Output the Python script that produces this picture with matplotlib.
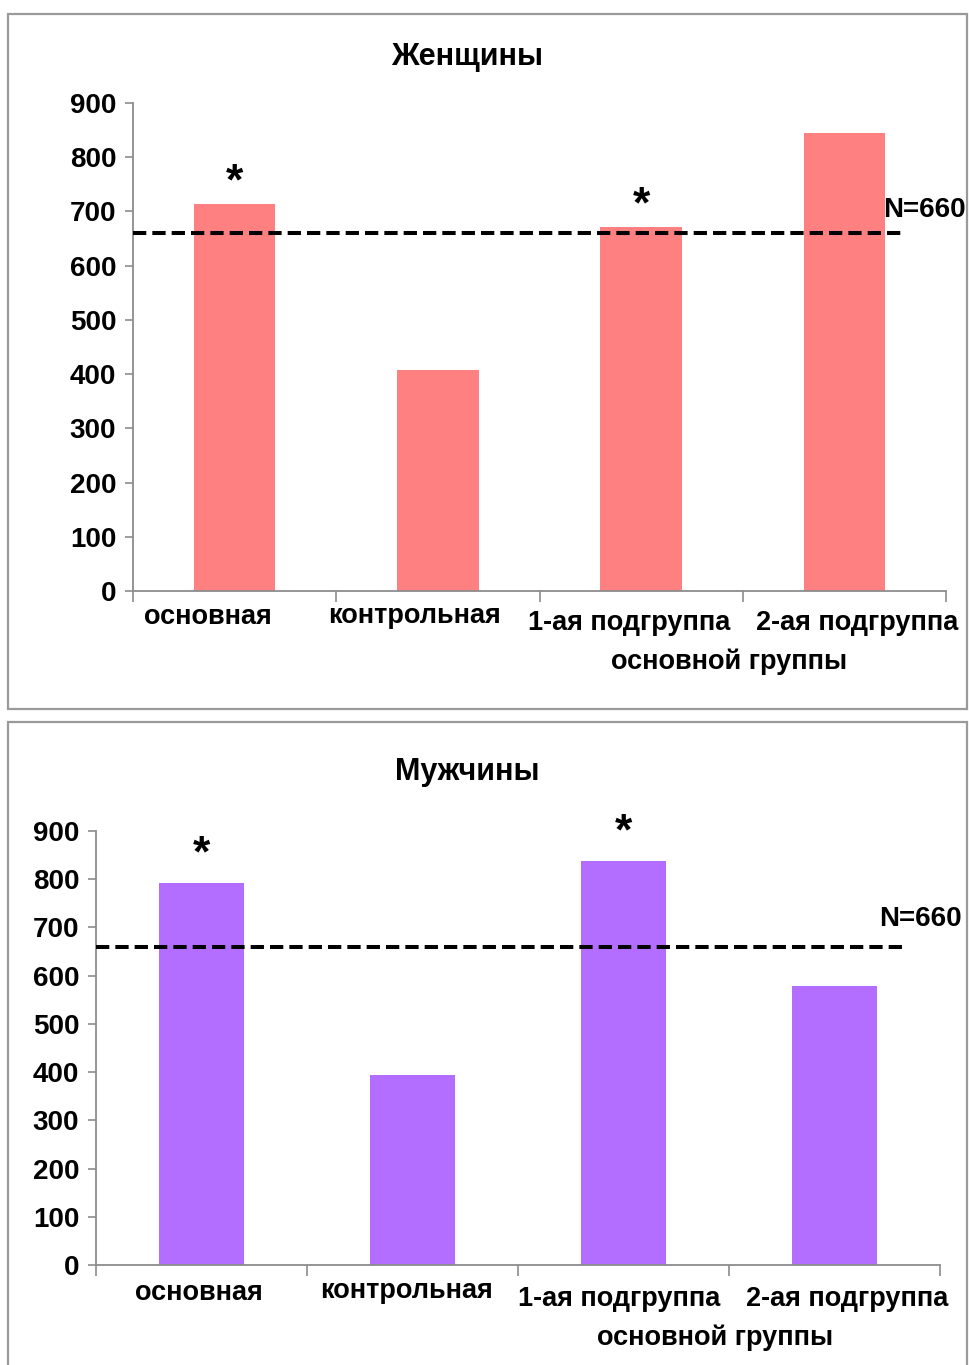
import matplotlib
matplotlib.use("Agg")
import matplotlib.pyplot as plt
from matplotlib.patches import Rectangle

plt.rcParams["font.family"] = ["Liberation Sans", "DejaVu Sans"]
plt.rcParams["font.weight"] = "bold"

categories = ["основная", "контрольная", "1-ая подгруппа", "2-ая подгруппа"]
subgroup_note = "основной группы"
women = [714, 407, 672, 845]
men = [793, 394, 838, 578]
women_star = [True, False, True, False]
men_star = [True, False, True, False]
norm_value = 660
norm_label = "N=660"
yticks = [0, 100, 200, 300, 400, 500, 600, 700, 800, 900]

PINK = "#FF8080"
PURPLE = "#B46EFF"
GRAY = "#8C8C8C"

fig = plt.figure(figsize=(9.69, 13.65), dpi=100)
W, H = 969, 1365

# panel frames (pixel boxes -> figure fractions)
for x0, y0, x1, y1 in [(8, 14, 967, 709), (8, 722, 967, 1370)]:
    fig.add_artist(Rectangle((x0 / W, 1 - y1 / H), (x1 - x0) / W, (y1 - y0) / H,
                             transform=fig.transFigure, fill=False,
                             edgecolor="#9A9A9A", lw=1.6))


def panel(rect, title, title_y, vals, stars, color, lab_dx, lab_dy, note_dy,
          norm_xmax, star_dy, norm_dx, norm_dy):
    ax = fig.add_axes(rect)
    x = list(range(len(vals)))
    ax.bar(x, vals, width=0.40, color=color, zorder=2)
    ax.set_xlim(-0.5, len(vals) - 0.5)
    ax.set_ylim(0, 900)
    ax.set_yticks(yticks)
    ax.tick_params(axis="y", labelsize=20, length=6, width=1.2, color=GRAY, pad=6)
    ax.set_xticks([i - 0.5 for i in range(len(vals) + 1)])
    ax.set_xticklabels([])
    ax.tick_params(axis="x", length=8, width=1.2, color=GRAY)
    for s in ("top", "right"):
        ax.spines[s].set_visible(False)
    for s in ("left", "bottom"):
        ax.spines[s].set_color(GRAY)
        ax.spines[s].set_linewidth(1.3)

    for i, lab in enumerate(categories):
        ax.annotate(lab, xy=(i, 0), xycoords=("data", "axes fraction"),
                    xytext=(lab_dx[i], -lab_dy[i]), textcoords="offset points",
                    ha="center", va="center", fontsize=19.5, fontweight="bold")
    ax.annotate(subgroup_note, xy=(2.5, 0), xycoords=("data", "axes fraction"),
                xytext=(-10, -note_dy), textcoords="offset points",
                ha="center", va="center", fontsize=19.5, fontweight="bold")

    for i, (v, s) in enumerate(zip(vals, stars)):
        if s:
            ax.annotate("*", xy=(i, v), xytext=(0, star_dy), textcoords="offset points",
                        ha="center", va="center", fontsize=32, fontweight="bold")

    ax.axhline(norm_value, xmin=0, xmax=norm_xmax, color="black", lw=2.9,
               dashes=(3.3, 1.5), zorder=3)
    ax.annotate(norm_label, xy=(norm_xmax, norm_value),
                xycoords=("axes fraction", "data"), xytext=(norm_dx, norm_dy),
                textcoords="offset points", ha="left", va="center",
                fontsize=20, fontweight="bold", annotation_clip=False)

    fig.text(0.482, title_y, title, ha="center", va="center", fontsize=22,
             fontweight="bold")
    return ax


panel([133 / W, 1 - 591 / H, 813 / W, 488 / H], "Женщины", 1 - 57 / H,
      women, women_star, PINK,
      lab_dx=[-19, -17, -9, 9], lab_dy=[19, 18, 23, 23], note_dy=51,
      norm_xmax=0.946, star_dy=15, norm_dx=-14, norm_dy=17)

panel([96 / W, 1 - 1265 / H, 844 / W, 434 / H], "Мужчины", 1 - 772 / H,
      men, men_star, PURPLE,
      lab_dx=[-2, -4, -3, 9], lab_dy=[20, 19, 24.5, 24.5], note_dy=52.5,
      norm_xmax=0.959, star_dy=20, norm_dx=-19, norm_dy=20)

fig.savefig("out.png", dpi=100)
